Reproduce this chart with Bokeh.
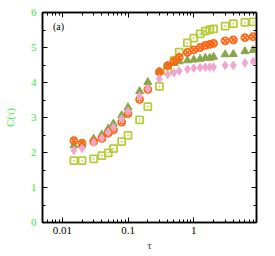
from bokeh.plotting import figure
from bokeh.models import (LogAxis, LinearAxis, Label, LogTicker, SingleIntervalTicker,
                          ColumnDataSource, CustomJSTickFormatter)
from bokeh.embed import file_html
from bokeh.resources import INLINE

tau = [0.015, 0.02, 0.03, 0.04, 0.05, 0.06, 0.08, 0.1, 0.15, 0.2, 0.3, 0.4, 0.5,
       0.6, 0.8, 1.0, 1.25, 1.5, 1.75, 2.0, 3.0, 4.0, 6.0, 8.0]
c_square = [1.77, 1.77, 1.82, 1.91, 1.99, 2.11, 2.31, 2.49, 2.93, 3.31, 3.89, 4.34, 4.63,
            4.87, 5.13, 5.27, 5.39, 5.47, 5.51, 5.53, 5.61, 5.68, 5.72, 5.73]
c_triangle = [2.20, 2.22, 2.39, 2.51, 2.68, 2.82, 3.06, 3.29, 3.75, 4.01, 4.31, 4.47, 4.55,
              4.60, 4.63, 4.65, 4.67, 4.70, 4.70, 4.73, 4.80, 4.81, 4.89, 4.92]
c_circle = [2.34, 2.27, 2.31, 2.40, 2.55, 2.65, 2.87, 3.11, 3.52, 3.80, 4.30, 4.48, 4.60,
            4.72, 4.86, 4.93, 5.00, 5.06, 5.09, 5.12, 5.19, 5.22, 5.28, 5.31]
c_diamond = [2.06, 2.12, 2.29, 2.41, 2.58, 2.72, 2.96, 3.18, 3.61, 3.82, 4.10, 4.23, 4.28,
             4.33, 4.38, 4.41, 4.43, 4.44, 4.44, 4.44, 4.49, 4.49, 4.56, 4.60]

FONT = "Liberation Serif"
GREEN = "#33ee33"

src = ColumnDataSource(dict(t=tau, sq=c_square, tr=c_triangle, ci=c_circle, di=c_diamond))

p = figure(width=264, height=254, x_axis_type="log",
           x_range=(0.005, 9), y_range=(0, 6),
           output_backend="svg", toolbar_location=None,
           min_border_left=38, min_border_right=8, min_border_top=12, min_border_bottom=32)
p.grid.visible = False
p.outline_line_color = "black"
p.outline_line_width = 1.5
p.background_fill_color = "white"

p.scatter("t", "sq", source=src, marker="square_dot", size=7, fill_color=None,
          line_color="#b8cc3c", line_width=1.8)
p.scatter("t", "tr", source=src, marker="triangle", size=8, fill_color="#8aa54a",
          line_color="#8aa54a")
p.scatter("t", "ci", source=src, marker="circle_x", size=7, fill_color=None,
          line_color="#ff6611", line_width=1.8)
p.scatter("t", "di", source=src, marker="diamond", size=8.5, fill_color="#f2a6cf",
          line_color="#f2a6cf")

xa = p.xaxis[0]
xa.ticker = LogTicker(num_minor_ticks=10)
xa.formatter = CustomJSTickFormatter(code="return String(Number(tick.toPrecision(3)));")
xa.major_tick_in = 5
xa.major_tick_out = 0
xa.minor_tick_in = 3
xa.minor_tick_out = 0
xa.axis_line_width = 1.5
xa.major_label_text_font = FONT
xa.major_label_text_font_size = "11px"
xa.major_label_text_color = "black"
xa.major_label_standoff = 4
xa.axis_label = "τ"
xa.axis_label_text_font = FONT
xa.axis_label_text_font_style = "normal"
xa.axis_label_text_font_size = "11px"
xa.axis_label_standoff = 2

ya = p.yaxis[0]
ya.ticker = SingleIntervalTicker(interval=1, num_minor_ticks=2)
ya.major_tick_in = 5
ya.major_tick_out = 0
ya.minor_tick_in = 3
ya.minor_tick_out = 0
ya.axis_line_width = 1.5
ya.major_label_text_font = FONT
ya.major_label_text_font_size = "11px"
ya.major_label_text_color = GREEN
ya.major_label_standoff = 6
ya.axis_label = "C(τ)"
ya.axis_label_text_font = FONT
ya.axis_label_text_font_style = "normal"
ya.axis_label_text_font_size = "11px"
ya.axis_label_text_color = GREEN
ya.axis_label_standoff = 12

top = LogAxis(ticker=LogTicker(num_minor_ticks=10), major_tick_in=5, major_tick_out=0,
              minor_tick_in=3, minor_tick_out=0, axis_line_width=1.5,
              major_label_text_font_size="1px", major_label_text_alpha=0,
              major_label_standoff=0)
p.add_layout(top, "above")
right = LinearAxis(ticker=SingleIntervalTicker(interval=1, num_minor_ticks=2),
                   major_tick_in=5, major_tick_out=0, minor_tick_in=3, minor_tick_out=0,
                   axis_line_width=1.5, major_label_text_font_size="1px",
                   major_label_text_alpha=0, major_label_standoff=0)
p.add_layout(right, "right")

p.add_layout(Label(x=0.0072, y=5.45, text="(a)", text_font=FONT, text_font_size="10px",
                   text_color="black"))

open("out.html", "w").write(file_html(p, INLINE))
